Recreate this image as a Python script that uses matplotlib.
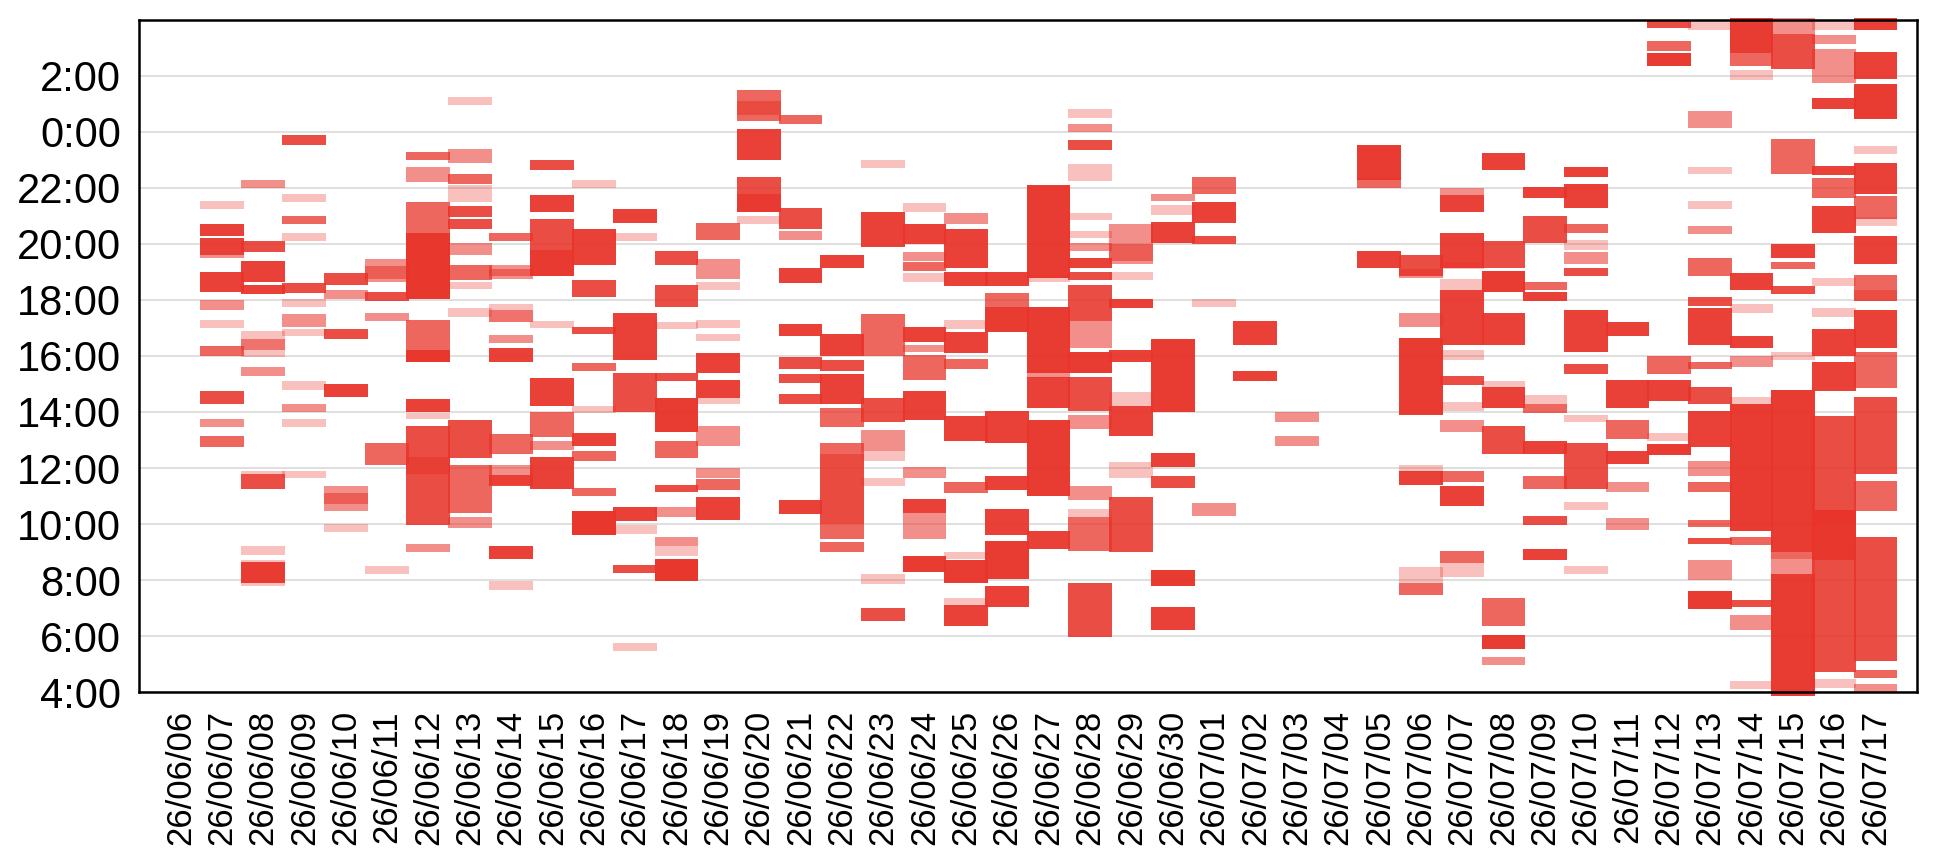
import numpy as np
import pandas as pd
import matplotlib.pyplot as plt
from matplotlib import font_manager

# activity blocks per day: (start hour, end hour, overlap level)
# hours past 24 mean after midnight
d0606 = []
d0607 = [(21.24, 21.52, 1), (20.3, 20.7, 5), (19.6, 20.2, 5), (19.5, 19.6, 2), (18.3, 19.0, 5),
         (17.65, 18.0, 2), (17.0, 17.3, 1), (16.0, 16.35, 3), (14.3, 14.75, 4), (13.45, 13.75, 2),
         (12.75, 13.15, 3)]
d0608 = [(22.0, 22.3, 2), (19.7, 20.1, 4), (18.65, 19.4, 5), (18.2, 18.55, 5), (15.95, 16.9, 1),
         (16.2, 16.6, 2), (15.3, 15.6, 2), (11.25, 11.8, 4), (11.8, 11.9, 1), (8.9, 9.2, 1),
         (7.9, 8.65, 5), (7.8, 8.7, 1)]
d0609 = [(23.55, 23.9, 4), (21.5, 21.8, 1), (20.7, 21.0, 3), (20.1, 20.4, 1), (18.25, 18.6, 4),
         (17.75, 18.05, 1), (17.05, 17.5, 2), (16.7, 16.95, 1), (14.8, 15.1, 1), (14.0, 14.3, 2),
         (13.45, 13.75, 1), (11.65, 11.9, 1)]
d0610 = [(18.55, 18.95, 4), (18.05, 18.35, 2), (16.6, 16.95, 4), (14.55, 15.0, 5), (10.45, 11.35, 2),
         (10.7, 11.1, 2), (9.7, 10.0, 1)]
d0611 = [(18.65, 19.45, 2), (18.75, 19.2, 2), (17.95, 18.3, 4), (17.25, 17.55, 2), (12.1, 12.9, 3),
         (8.2, 8.5, 1)]
d0612 = [(23.0, 23.3, 3), (22.2, 22.75, 2), (20.4, 21.5, 3), (18.05, 20.4, 7), (15.8, 17.3, 3),
         (15.8, 16.2, 5), (14.0, 14.45, 5), (13.75, 13.95, 1), (9.95, 13.5, 4), (11.8, 12.4, 2),
         (9.0, 9.3, 2)]
d0613 = [(24.95, 25.25, 1), (22.9, 23.4, 2), (22.15, 22.5, 3), (21.5, 22.1, 1), (20.95, 21.35, 4),
         (20.55, 20.9, 4), (19.6, 20.05, 2), (18.7, 19.25, 3), (18.4, 18.65, 1), (17.4, 17.7, 1),
         (12.35, 13.7, 4), (10.4, 12.1, 3), (9.85, 10.25, 2)]
d0614 = [(20.1, 20.4, 3), (18.75, 19.25, 2), (18.85, 19.1, 2), (17.2, 17.85, 1), (17.2, 17.65, 2),
         (16.45, 16.75, 2), (15.8, 16.3, 5), (12.5, 13.2, 3), (11.4, 12.1, 2), (11.35, 11.75, 4),
         (8.75, 9.2, 5), (7.65, 7.95, 1)]
d0615 = [(22.65, 23.0, 4), (21.15, 21.75, 5), (18.85, 20.9, 4), (18.85, 19.8, 3), (17.0, 17.25, 1),
         (14.2, 15.2, 5), (13.1, 14.0, 3), (12.65, 12.95, 2), (11.25, 12.4, 5)]
d0616 = [(22.0, 22.3, 1), (19.25, 20.55, 5), (18.1, 18.7, 4), (16.8, 17.05, 4), (15.45, 15.75, 3),
         (13.95, 14.2, 1), (12.8, 13.25, 5), (12.25, 12.6, 3), (11.0, 11.3, 3), (9.6, 10.45, 7)]
d0617 = [(20.75, 21.25, 5), (20.1, 20.4, 1), (15.85, 17.55, 5), (14.0, 15.4, 4), (10.1, 10.6, 5),
         (9.65, 9.95, 1), (8.25, 8.55, 4), (5.45, 5.75, 1)]
d0618 = [(19.25, 19.75, 4), (17.75, 18.55, 4), (16.95, 17.2, 1), (15.1, 15.4, 4), (13.3, 14.5, 6),
         (12.35, 12.95, 3), (11.15, 11.4, 4), (10.25, 10.6, 2), (9.2, 9.55, 2), (8.85, 9.2, 1),
         (7.95, 8.75, 7)]
d0619 = [(20.15, 20.75, 3), (18.75, 19.45, 2), (18.35, 18.65, 1), (17.0, 17.3, 1), (16.55, 16.8, 1),
         (15.4, 16.1, 5), (14.5, 15.15, 5), (14.3, 14.5, 1), (12.8, 13.5, 2), (11.65, 12.0, 2),
         (11.2, 11.6, 3), (10.15, 10.95, 5)]
d0620 = [(24.4, 25.5, 3), (24.6, 25.1, 2), (23.0, 24.1, 5), (21.15, 22.4, 4), (21.15, 21.8, 3),
         (20.7, 21.0, 1)]
d0621 = [(24.3, 24.6, 3), (20.55, 21.3, 4), (20.15, 20.45, 2), (18.6, 19.15, 5), (16.7, 17.15, 5),
         (15.55, 15.95, 4), (15.05, 15.35, 4), (14.3, 14.65, 4), (10.35, 10.85, 5)]
d0622 = [(19.15, 19.6, 5), (16.0, 16.8, 5), (15.45, 15.85, 4), (14.3, 15.35, 5), (13.45, 14.15, 3),
         (9.45, 12.9, 3), (10.0, 12.5, 2), (9.0, 9.35, 3)]
d0623 = [(22.7, 23.0, 1), (19.9, 21.15, 5), (16.0, 17.5, 3), (13.65, 14.5, 4), (12.6, 13.35, 2),
         (12.25, 12.6, 1), (11.35, 11.65, 1), (7.85, 8.2, 1), (6.55, 7.0, 4)]
d0624 = [(21.15, 21.45, 1), (20.0, 20.7, 5), (19.4, 19.7, 2), (19.05, 19.35, 3), (18.65, 18.95, 1),
         (16.5, 17.05, 5), (16.15, 16.4, 2), (15.15, 16.05, 3), (13.7, 14.75, 5), (11.65, 12.05, 2),
         (10.4, 10.9, 5), (9.45, 10.4, 2), (8.3, 8.85, 6)]
d0625 = [(20.7, 21.1, 2), (19.15, 20.55, 5), (18.5, 19.0, 5), (16.95, 17.3, 1), (16.1, 16.85, 5),
         (15.55, 15.9, 3), (12.95, 13.85, 5), (11.1, 11.5, 3), (8.75, 9.0, 1), (7.9, 8.7, 6),
         (7.1, 7.35, 1), (6.35, 7.1, 5)]
d0626 = [(18.5, 19.0, 5), (17.75, 18.25, 3), (16.85, 17.75, 6), (12.9, 14.05, 5), (11.2, 11.7, 5),
         (9.6, 10.55, 5), (8.05, 9.4, 6), (7.05, 7.8, 5)]
d0627 = [(18.8, 22.1, 6), (18.65, 18.9, 1), (15.4, 17.75, 6), (15.2, 15.5, 2), (14.15, 15.25, 5),
         (11.0, 13.7, 6), (9.1, 9.75, 5)]
d0628 = [(24.5, 24.8, 1), (24.0, 24.3, 2), (23.35, 23.7, 4), (22.25, 22.85, 1), (20.85, 21.1, 1),
         (20.2, 20.45, 1), (19.75, 20.05, 2), (19.15, 19.5, 5), (18.7, 19.0, 4), (17.25, 18.55, 4),
         (16.3, 17.25, 2), (15.4, 16.15, 6), (14.05, 15.25, 4), (13.4, 13.9, 2), (10.85, 11.35, 2),
         (10.25, 10.55, 1), (9.05, 10.25, 3), (5.95, 7.9, 4)]
d0629 = [(19.3, 20.7, 2), (19.4, 20.0, 2), (18.7, 19.0, 1), (17.7, 18.05, 5), (15.8, 16.2, 5),
         (14.2, 14.7, 1), (13.15, 14.2, 5), (11.65, 12.2, 1), (9.0, 10.95, 4)]
d0630 = [(21.55, 21.8, 2), (21.05, 21.4, 1), (20.05, 20.8, 5), (14.0, 16.6, 6), (12.05, 12.55, 5),
         (11.3, 11.7, 4), (7.8, 8.35, 6), (6.2, 7.05, 5)]
d0701 = [(21.8, 22.4, 3), (20.75, 21.5, 5), (20.0, 20.3, 4), (17.75, 18.05, 1), (10.3, 10.75, 2)]
d0702 = [(16.4, 17.25, 5), (15.1, 15.45, 5)]
d0703 = [(13.65, 14.0, 2), (12.8, 13.15, 2)]
d0704 = []
d0705 = [(22.3, 23.55, 6), (22.0, 22.35, 3), (19.15, 19.75, 5)]
d0706 = [(18.85, 19.6, 4), (18.8, 19.1, 2), (17.05, 17.55, 2), (13.9, 16.65, 6), (11.85, 12.1, 1),
         (11.4, 11.9, 5), (7.9, 8.45, 1), (7.45, 7.9, 3)]
d0707 = [(21.75, 22.0, 2), (21.15, 21.75, 5), (19.15, 20.4, 5), (19.1, 19.35, 1), (18.35, 18.75, 1),
         (16.4, 18.35, 5), (15.85, 16.2, 1), (14.95, 15.3, 4), (14.05, 14.35, 1), (13.3, 13.7, 2),
         (11.5, 11.9, 3), (10.65, 11.35, 5), (8.6, 9.05, 3), (8.1, 8.6, 1)]
d0708 = [(22.65, 23.25, 5), (19.15, 20.1, 4), (18.3, 19.05, 6), (16.4, 17.55, 5), (14.9, 15.1, 1),
         (14.15, 14.9, 5), (12.5, 13.5, 4), (6.35, 7.35, 3), (5.55, 6.05, 6), (4.95, 5.25, 2)]
d0709 = [(21.65, 22.05, 5), (20.05, 21.0, 4), (18.35, 18.65, 3), (17.95, 18.3, 5), (14.3, 14.6, 1),
         (13.95, 14.3, 3), (12.5, 12.95, 5), (11.25, 11.7, 3), (9.95, 10.3, 4), (8.7, 9.1, 5)]
d0710 = [(22.4, 22.75, 5), (21.3, 22.15, 5), (20.4, 20.7, 3), (19.8, 20.15, 1), (19.3, 19.7, 2),
         (18.85, 19.15, 4), (16.15, 17.65, 5), (15.35, 15.7, 4), (13.65, 13.9, 1), (11.25, 12.9, 4),
         (10.5, 10.8, 1), (8.2, 8.5, 1)]
d0711 = [(16.7, 17.2, 5), (14.15, 15.15, 5), (13.05, 13.7, 3), (12.15, 12.6, 5), (11.15, 11.5, 2),
         (9.8, 10.2, 2)]
d0712 = [(27.7, 28.0, 4), (26.9, 27.25, 3), (26.35, 26.8, 6), (15.35, 16.0, 3), (14.4, 15.15, 5),
         (12.95, 13.25, 1), (12.45, 12.85, 6)]
d0713 = [(27.65, 27.95, 1), (24.15, 24.75, 2), (22.5, 22.75, 1), (21.25, 21.55, 1), (20.35, 20.65, 2),
         (18.85, 19.5, 3), (17.8, 18.1, 4), (16.4, 17.7, 5), (15.55, 15.8, 3), (14.3, 14.9, 4),
         (12.75, 14.05, 5), (11.7, 12.25, 2), (11.15, 11.5, 3), (9.9, 10.15, 3), (9.3, 9.5, 4),
         (8.0, 8.7, 2), (6.95, 7.6, 6)]
d0714 = [(26.8, 28.05, 6), (26.35, 26.8, 3), (25.85, 26.2, 1), (18.35, 18.95, 5), (17.55, 17.85, 1),
         (16.3, 16.7, 5), (15.6, 16.0, 2), (14.3, 14.55, 1), (9.75, 14.3, 6), (9.25, 9.55, 3),
         (7.05, 7.3, 4), (6.2, 6.75, 2), (4.1, 4.4, 1)]
d0715 = [(26.25, 27.5, 4), (27.5, 28.05, 2), (22.5, 23.75, 3), (19.5, 20.0, 5), (19.1, 19.35, 3),
         (18.2, 18.5, 4), (15.85, 16.15, 1), (9.0, 14.8, 6), (8.75, 9.0, 3), (8.2, 8.75, 2),
         (3.85, 8.2, 6)]
d0716 = [(27.65, 27.95, 1), (27.15, 27.45, 2), (25.75, 26.95, 2), (24.8, 25.2, 5), (22.45, 22.8, 5),
         (21.65, 22.35, 3), (20.4, 21.35, 5), (18.5, 18.8, 1), (17.4, 17.7, 1), (16.0, 16.98, 5),
         (14.75, 15.8, 5), (10.0, 13.85, 4), (8.7, 10.5, 7), (4.7, 8.7, 4), (4.15, 4.45, 1)]
d0717 = [(27.65, 28.05, 5), (25.9, 26.85, 5), (24.45, 25.7, 6), (23.2, 23.5, 1), (21.8, 22.9, 5),
         (20.9, 21.7, 3), (20.65, 20.95, 1), (19.3, 20.3, 5), (18.35, 18.9, 3), (17.95, 18.35, 4),
         (16.3, 17.65, 5), (14.85, 16.15, 3), (11.8, 14.55, 4), (10.45, 11.55, 3), (5.1, 9.55, 4),
         (4.5, 4.8, 3), (4.0, 4.3, 2)]

days = [d0606, d0607, d0608, d0609, d0610, d0611, d0612, d0613, d0614, d0615, d0616, d0617,
        d0618, d0619, d0620, d0621, d0622, d0623, d0624, d0625, d0626, d0627, d0628, d0629,
        d0630, d0701, d0702, d0703, d0704, d0705, d0706, d0707, d0708, d0709, d0710, d0711,
        d0712, d0713, d0714, d0715, d0716, d0717]
date_labels = list(pd.date_range('2026-06-06', '2026-07-17').strftime('%y/%m/%d'))
y_ticks = [4, 6, 8, 10, 12, 14, 16, 18, 20, 22, 24, 26]
y_labels = ['4:00', '6:00', '8:00', '10:00', '12:00', '14:00', '16:00', '18:00',
            '20:00', '22:00', '0:00', '2:00']

red = '#e8342a'
alphas = [0.3, 0.55, 0.75, 0.88, 0.94, 0.97, 0.99]

names = {f.name for f in font_manager.fontManager.ttflist}
yfont = 'Liberation Sans Narrow' if 'Liberation Sans Narrow' in names else 'Liberation Sans'

fig = plt.figure(figsize=(19.4, 8.64), dpi=100)
ax = fig.add_axes([0.0716, 0.199, 0.9165, 0.778])

for i, blocks in enumerate(days):
    for s, e, n in blocks:
        ax.bar(i, e - s, bottom=s, width=1.06, color=red, alpha=alphas[min(n, 7) - 1],
               linewidth=0, clip_on=False, zorder=2)

ax.set_xlim(-1, len(days))
ax.set_ylim(4, 28)
ax.set_yticks(y_ticks)
ax.set_yticklabels(y_labels, fontsize=30, family=yfont)
ax.set_xticks(np.arange(len(days)))
ax.set_xticklabels(date_labels, rotation=90, fontsize=25, family='Liberation Sans')
ax.tick_params(length=0, pad=13)
ax.grid(axis='y', color='#d9d9d9', linewidth=1.2, zorder=0)
ax.set_axisbelow(True)
for sp in ax.spines.values():
    sp.set_linewidth(1.8)
    sp.set_color('black')

fig.savefig('out.png', dpi=100)
